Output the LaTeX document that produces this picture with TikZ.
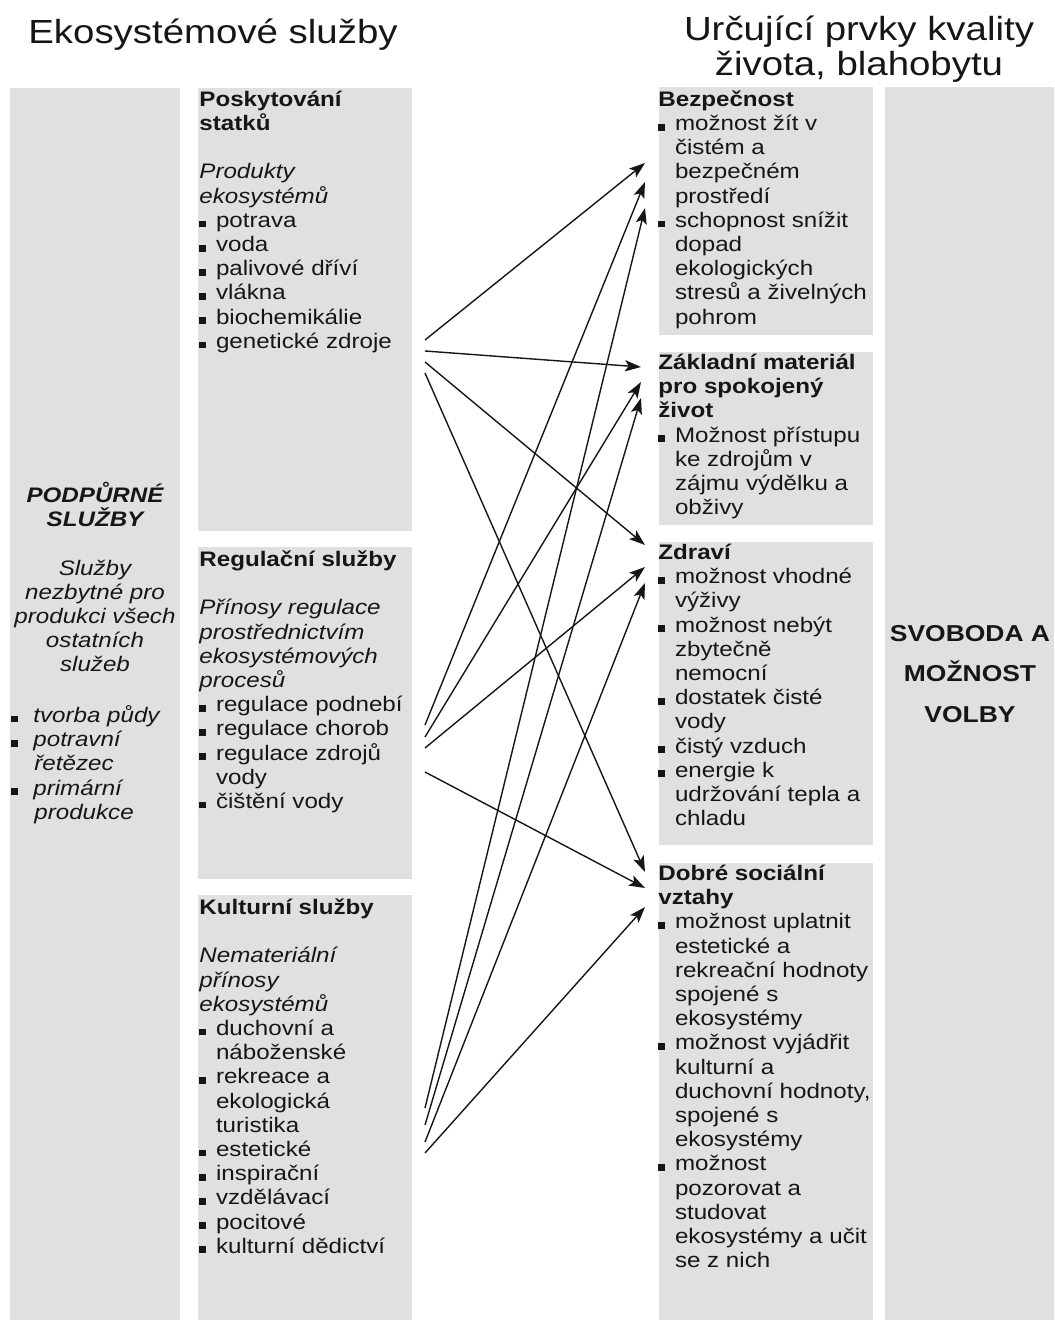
\documentclass[tikz,border=0pt]{standalone}
\usepackage{fontspec}
\setmainfont[FakeStretch=1.15]{Liberation Sans}
\usetikzlibrary{arrows.meta}

\definecolor{panelgray}{HTML}{E0E0E0}
\definecolor{ink}{HTML}{161616}

\newcommand{\boxfont}{\fontsize{10.5}{12.1}\selectfont}
\newcommand{\firstline}{\rule{0pt}{12pt}}  % strut, fixes the first baseline
\newcommand{\bul}[1][8.3pt]{\makebox[#1][l]{\rule{3.4pt}{3.4pt}}}
\newcommand{\indt}[1][8.3pt]{\hspace*{#1}}

\tikzset{
  panel/.style={fill=panelgray},
  txt/.style={anchor=north west, inner sep=0pt, align=left, font=\boxfont, text=ink},
  ctxt/.style={anchor=north, inner sep=0pt, align=center, text=ink},
  arr/.style={-{Stealth[length=8pt,width=5.6pt,inset=1.8pt]}, line width=0.7pt, draw=ink},
}

\begin{document}
\begin{tikzpicture}[x=0.5pt,y=-0.5pt]
\useasboundingbox (0,0) rectangle (1054,1320);

% Gray panels
\foreach \xa/\ya/\xb/\yb in {10/88/180/1320, 198/88/412/531, 198/547/412/879, 198/895/412/1320,
                             659/87/873/335, 659/352/873/525, 659/542/873/845, 659/863/873/1320,
                             885/87/1054/1320}
  \fill[panel] (\xa,\ya) rectangle (\xb,\yb);

% Headings
\node[ctxt, font=\fontsize{16.7}{17.5}\selectfont] (ttlleft) at (213,11)
  {\rule{0pt}{16pt}Ekosystémové služby};
\node[ctxt, font=\fontsize{16.7}{17.5}\selectfont] (ttlright) at (859,8)
  {\rule{0pt}{16pt}Určující prvky kvality\\ života, blahobytu};

% Supporting services
\node[ctxt, font=\boxfont\itshape] (supp) at (95,478)
  {\firstline\textbf{PODPŮRNÉ}\\ \textbf{SLUŽBY}\\[12.1pt] Služby\\ nezbytné pro\\ produkci všech\\ ostatních\\ služeb};
\node[txt, font=\boxfont\itshape] (supplist) at (11,698)
  {\firstline\bul[11pt]tvorba půdy\\ \bul[11pt]potravní\\ \indt[11.5pt]řetězec\\ \bul[11pt]primární\\ \indt[11.5pt]produkce};

% Service columns
\node[txt] (prov) at (199,82)
  {\firstline\textbf{Poskytování}\\ \textbf{statků}\\[12.1pt]
   \textit{Produkty}\\ \textit{ekosystémů}\\
   \bul potrava\\ \bul voda\\ \bul palivové dříví\\ \bul vlákna\\ \bul biochemikálie\\ \bul genetické zdroje};
\node[txt] (regul) at (199,542)
  {\firstline\textbf{Regulační služby}\\[12.1pt]
   \textit{Přínosy regulace}\\ \textit{prostřednictvím}\\ \textit{ekosystémových}\\ \textit{procesů}\\
   \bul regulace podnebí\\ \bul regulace chorob\\ \bul regulace zdrojů\\ \indt vody\\ \bul čištění vody};
\node[txt] (kult) at (199,890)
  {\firstline\textbf{Kulturní služby}\\[12.1pt]
   \textit{Nemateriální}\\ \textit{přínosy}\\ \textit{ekosystémů}\\
   \bul duchovní a\\ \indt náboženské\\ \bul rekreace a\\ \indt ekologická\\ \indt turistika\\
   \bul estetické\\ \bul inspirační\\ \bul vzdělávací\\ \bul pocitové\\ \bul kulturní dědictví};

% Well-being columns
\node[txt] (bezp) at (658,82)
  {\firstline\textbf{Bezpečnost}\\
   \bul možnost žít v\\ \indt čistém a\\ \indt bezpečném\\ \indt prostředí\\
   \bul schopnost snížit\\ \indt dopad\\ \indt ekologických\\ \indt stresů a živelných\\ \indt pohrom};
\node[txt] (zakl) at (658,345)
  {\firstline\textbf{Základní materiál}\\ \textbf{pro spokojený}\\ \textbf{život}\\
   \bul Možnost přístupu\\ \indt ke zdrojům v\\ \indt zájmu výdělku a\\ \indt obživy};
\node[txt] (zdravi) at (658,535)
  {\firstline\textbf{Zdraví}\\
   \bul možnost vhodné\\ \indt výživy\\ \bul možnost nebýt\\ \indt zbytečně\\ \indt nemocní\\
   \bul dostatek čisté\\ \indt vody\\ \bul čistý vzduch\\ \bul energie k\\ \indt udržování tepla a\\ \indt chladu};
\node[txt] (soc) at (658,856)
  {\firstline\textbf{Dobré sociální}\\ \textbf{vztahy}\\
   \bul možnost uplatnit\\ \indt estetické a\\ \indt rekreační hodnoty\\ \indt spojené s\\ \indt ekosystémy\\
   \bul možnost vyjádřit\\ \indt kulturní a\\ \indt duchovní hodnoty,\\ \indt spojené s\\ \indt ekosystémy\\
   \bul možnost\\ \indt pozorovat a\\ \indt studovat\\ \indt ekosystémy a učit\\ \indt se z nich};

% Freedom of choice
\node[ctxt, font=\fontsize{11.5}{20.25}\selectfont\bfseries] (volba) at (970,617)
  {\firstline SVOBODA A\\ MOŽNOST\\ VOLBY};

% Arrow starts (P = provisioning, R = regulating, C = cultural)
\foreach \n/\y in {1/340,2/351,3/362,4/373} \coordinate (P\n) at (425,\y);
\foreach \n/\y in {1/725,2/737,3/748,4/772} \coordinate (R\n) at (425,\y);
\foreach \n/\y in {1/1108,2/1125,3/1142,4/1153} \coordinate (C\n) at (425,\y);

% Arrow ends (B = security, Z = material, H = health, S = social)
\foreach \n/\y in {1/163,2/182,3/208} \coordinate (B\n) at (645,\y);
\foreach \n/\y in {1/367,2/382,3/398} \coordinate (Z\n) at (641,\y);
\foreach \n/\y in {1/545,2/567,3/583} \coordinate (H\n) at (645,\y);
\foreach \n/\y in {1/872,2/888,3/907} \coordinate (S\n) at (645,\y);

% Links
\foreach \s/\t in {P1/B1,P2/Z1,P3/H1,P4/S1,R1/B2,R2/Z2,R3/H2,R4/S2,C1/B3,C2/Z3,C3/H3,C4/S3}
  \draw[arr] (\s) -- (\t);
\end{tikzpicture}
\end{document}
